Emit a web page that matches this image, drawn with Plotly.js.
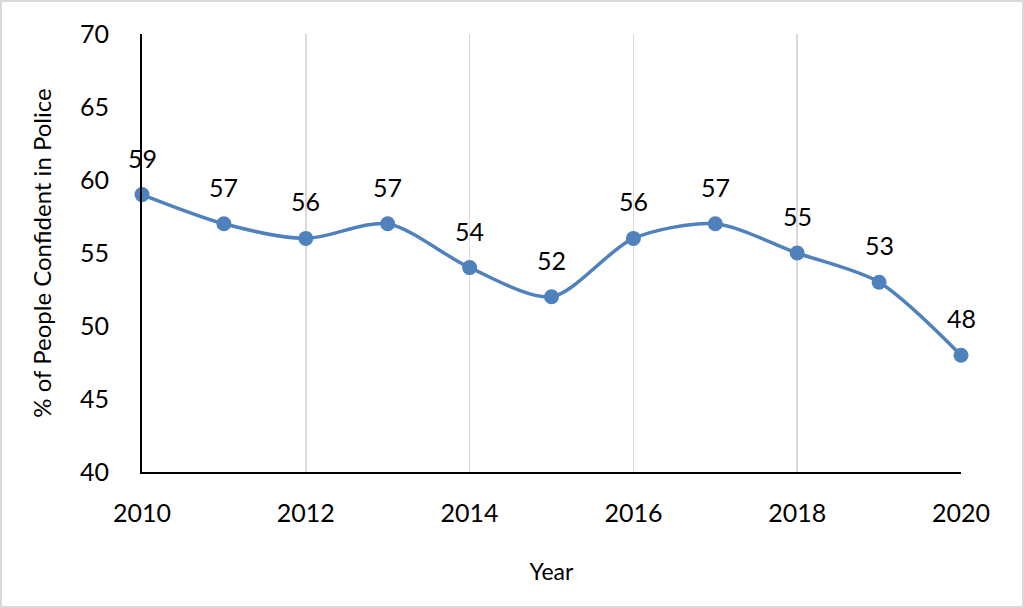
<!DOCTYPE html>
<html>
<head>
<meta charset="utf-8">
<script src="https://cdn.plot.ly/plotly-3.0.1.min.js"></script>
<style>
  html, body { margin: 0; padding: 0; background: #fff; }
  #wrap { position: relative; width: 1024px; height: 608px; }
  #chart { position: absolute; left: 0; top: 0; width: 1024px; height: 608px; }
  #frame { position: absolute; left: 0; top: 0; width: 1024px; height: 608px; box-sizing: border-box; border: 2px solid #d9d9d9; pointer-events: none; }
</style>
</head>
<body>
<div id="wrap"><div id="chart"></div><div id="frame"></div></div>
<script>
const years = [2010, 2011, 2012, 2013, 2014, 2015, 2016, 2017, 2018, 2019, 2020];
const confidence = [59, 57, 56, 57, 54, 52, 56, 57, 55, 53, 48];
const yTicks = [40, 45, 50, 55, 60, 65, 70];
const xTicks = [2010, 2012, 2014, 2016, 2018, 2020];

const FONT = 'Lato, "Open Sans", sans-serif';

const trace = {
  x: years,
  y: confidence,
  type: 'scatter',
  mode: 'lines+markers',
  line: { color: '#4f81bd', width: 3.5, shape: 'spline', smoothing: 0.8 },
  marker: { color: '#4f81bd', size: 15 },
  cliponaxis: false,
  hoverinfo: 'x+y'
};

const annotations = years.map((yr, i) => ({
  x: yr,
  y: confidence[i],
  xref: 'x',
  yref: 'y',
  text: String(confidence[i]),
  showarrow: false,
  yshift: 37,
  font: { family: FONT, size: 25, color: '#000' }
}));

const layout = {
  width: 1024,
  height: 608,
  margin: { l: 142, r: 63, t: 34, b: 136 },
  paper_bgcolor: '#fff',
  plot_bgcolor: '#fff',
  showlegend: false,
  font: { family: FONT, size: 25, color: '#000' },
  annotations: annotations,
  xaxis: {
    range: [2010, 2020],
    tickvals: xTicks,
    ticktext: xTicks.map(String),
    showgrid: true,
    gridcolor: '#d9d9d9',
    gridwidth: 1.5,
    showline: true,
    linecolor: '#000',
    linewidth: 2,
    zeroline: false,
    ticks: '',
    ticklabelstandoff: 18,
    tickfont: { family: FONT, size: 25, color: '#000' },
    title: { text: 'Year', font: { family: FONT, size: 23, color: '#000' }, standoff: 38 }
  },
  yaxis: {
    range: [40, 70],
    tickvals: yTicks,
    showgrid: false,
    showline: true,
    linecolor: '#000',
    linewidth: 2,
    zeroline: false,
    ticks: '',
    ticklabelstandoff: 26,
    tickfont: { family: FONT, size: 25, color: '#000' },
    title: { text: '% of People Confident in Police', font: { family: FONT, size: 24, color: '#000' }, standoff: 22 }
  }
};

Plotly.newPlot('chart', [trace], layout, { displayModeBar: false, staticPlot: true });
</script>
</body>
</html>
